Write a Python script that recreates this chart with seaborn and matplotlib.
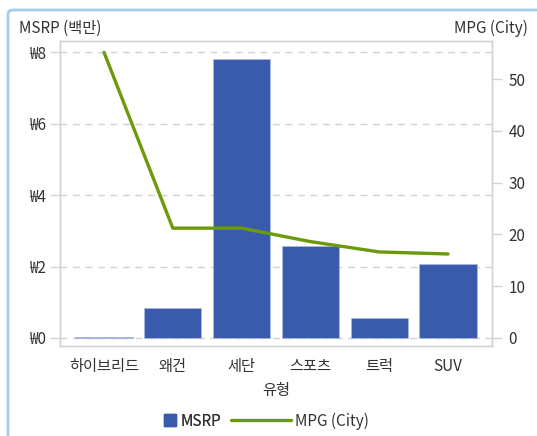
import numpy as np
import pandas as pd
import matplotlib
matplotlib.use("Agg")
import matplotlib.pyplot as plt
import seaborn as sns
from matplotlib.lines import Line2D
from matplotlib.patches import FancyBboxPatch

# data
types = ['하이브리드', '왜건', '세단', '스포츠', '트럭', 'SUV']
msrp = [0.04, 0.84, 7.81, 2.58, 0.57, 2.08]       # 백만 (millions)
mpg_city = [55.2, 21.2, 21.2, 18.6, 16.6, 16.2]
msrp_ticks = [0, 2, 4, 6, 8]
mpg_ticks = [0, 10, 20, 30, 40, 50]

df = pd.DataFrame({'유형': types, 'MSRP': msrp, 'MPG (City)': mpg_city})

sns.set_theme(style='white')
plt.rcParams['font.family'] = ['Noto Sans CJK KR', 'DejaVu Sans']
fs = 11

bar_color = '#3a5bac'
line_color = '#6b9a0a'
grey = '#d3d3d3'
text_color = '#333333'

fig = plt.figure(figsize=(5.37, 4.36), dpi=100)
ax = fig.add_axes([60 / 537, 1 - 345.5 / 436, 432 / 537, 304.5 / 436])

# light blue rounded frame around the figure
fig.patches.append(FancyBboxPatch((8 / 537, -0.1), 1.2, 1 - 10 / 436 + 0.1,
                                  boxstyle='round,pad=0,rounding_size=0.01',
                                  transform=fig.transFigure, fill=False,
                                  edgecolor='#9fcdea', linewidth=2))

sns.barplot(data=df, x='유형', y='MSRP', color=bar_color, width=0.83,
            edgecolor='#a9b8de', linewidth=0.6, saturation=1, ax=ax, zorder=2)
ax.set_xlim(-0.64, len(types) - 1 + 0.64)
ax.set_ylim(-0.21, 8.31)
ax.set_yticks(msrp_ticks)
ax.set_yticklabels(['₩%d' % t for t in msrp_ticks])
ax.yaxis.grid(True, linestyle=(0, (5, 4)), color=grey, linewidth=1, zorder=0)
ax.set_axisbelow(True)

ax2 = ax.twinx()
sns.lineplot(data=df, x='유형', y='MPG (City)', color=line_color,
             linewidth=2.4, ax=ax2, zorder=3)
ax2.set_ylim(-1.5, 57.4)
ax2.set_yticks(mpg_ticks)

for a in (ax, ax2):
    for s in a.spines.values():
        s.set_color(grey)
        s.set_linewidth(1)
    a.tick_params(colors=grey, labelcolor=text_color, length=7, width=1,
                  labelsize=fs)
    a.set_ylabel('')

ax.set_xlabel('유형', color=text_color, fontsize=fs, labelpad=5)
ax2.set_xlabel('')
ax.tick_params(axis='x', pad=2)
ax.tick_params(axis='y', left=True, pad=3)
ax2.tick_params(axis='y', right=True, pad=5)

fig.text(19 / 537, 1 - 28 / 436, 'MSRP (백만)', color=text_color,
         fontsize=fs, va='center', ha='left')
fig.text(528 / 537, 1 - 28 / 436, 'MPG (City)', color=text_color,
         fontsize=fs, va='center', ha='right')

# legend at the bottom
h1 = Line2D([], [], marker='s', linestyle='none', color=bar_color, markersize=8)
h2 = Line2D([], [], color=line_color, linewidth=2.4)
leg1 = fig.legend([h1], ['MSRP'], loc='center left',
                  bbox_to_anchor=(165 / 537, 1 - 421 / 436), frameon=False,
                  handlelength=0.7, handletextpad=0.3, borderpad=0,
                  borderaxespad=0, labelcolor=text_color, fontsize=fs)
fig.legend([h2], ['MPG (City)'], loc='center left',
           bbox_to_anchor=(231 / 537, 1 - 421 / 436), frameon=False,
           handlelength=3.9, handletextpad=0.3, borderpad=0,
           borderaxespad=0, labelcolor=text_color, fontsize=fs)
fig.add_artist(leg1)

fig.savefig('out.png', dpi=100)
